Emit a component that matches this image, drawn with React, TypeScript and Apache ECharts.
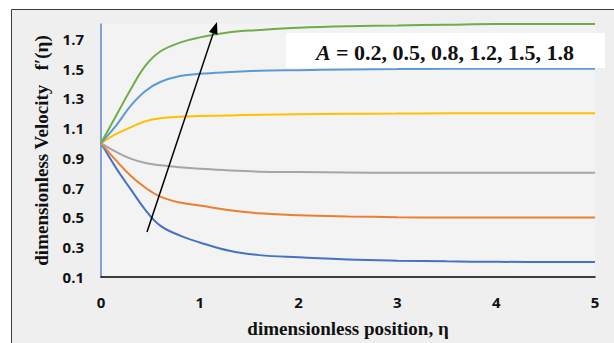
import React, { useEffect, useRef } from "react";
import * as echarts from "echarts";

const etaValues = [0, 0.15, 0.3, 0.45, 0.6, 0.8, 1, 1.3, 1.6, 2, 2.5, 3, 3.5, 4, 5];
const aLabels = ["0.2", "0.5", "0.8", "1.2", "1.5", "1.8"];
const seriesColors = ["#4472C4", "#ED7D31", "#A5A5A5", "#FFC000", "#5B9BD5", "#70AD47"];
const velA02 = [1, 0.835, 0.69, 0.55, 0.445, 0.378, 0.332, 0.276, 0.247, 0.232, 0.218, 0.21, 0.205, 0.202, 0.2];
const velA05 = [1, 0.885, 0.78, 0.7, 0.64, 0.6, 0.58, 0.548, 0.528, 0.515, 0.507, 0.502, 0.5, 0.5, 0.5];
const velA08 = [1, 0.942, 0.895, 0.866, 0.851, 0.838, 0.828, 0.816, 0.808, 0.805, 0.802, 0.8, 0.8, 0.8, 0.8];
const velA12 = [1, 1.06, 1.105, 1.147, 1.167, 1.177, 1.181, 1.186, 1.19, 1.194, 1.197, 1.198, 1.2, 1.2, 1.2];
const velA15 = [1, 1.115, 1.25, 1.35, 1.41, 1.45, 1.465, 1.477, 1.486, 1.49, 1.495, 1.497, 1.5, 1.5, 1.5];
const velA18 = [1, 1.18, 1.36, 1.52, 1.615, 1.675, 1.71, 1.745, 1.76, 1.775, 1.785, 1.79, 1.795, 1.8, 1.8];
const allVel = [velA02, velA05, velA08, velA12, velA15, velA18];

export default function App() {
  const ref = useRef<HTMLDivElement>(null);
  useEffect(() => {
    if (!ref.current) return;
    const chart = echarts.init(ref.current, null, { renderer: "svg" });
    const tip = [217, 22];
    const tail = [147, 232];
    const dx = tip[0] - tail[0];
    const dy = tip[1] - tail[1];
    const len = Math.sqrt(dx * dx + dy * dy);
    const ux = dx / len, uy = dy / len;
    const hl = 12, hw = 4.5;
    const bx = tip[0] - hl * ux, by = tip[1] - hl * uy;
    const px = -uy, py = ux;
    chart.setOption({
      animation: false,
      backgroundColor: "#ffffff",
      graphic: [
        {
          type: "rect",
          z: -10,
          silent: true,
          shape: { x: 11.5, y: 9.5, width: 640, height: 400 },
          style: { fill: "#efefef", stroke: "#3a3a3a", lineWidth: 1 },
        },
        {
          type: "rect",
          z: -9,
          silent: true,
          shape: { x: 101, y: 24, width: 494, height: 254 },
          style: { fill: "#f3f3f3" },
        },
        {
          type: "rect",
          z: 50,
          shape: { x: 286, y: 33, width: 319, height: 35 },
          style: { fill: "#ffffff" },
        },
        {
          type: "text",
          z: 51,
          x: 445,
          y: 52,
          style: {
            text: "{a|A} = 0.2, 0.5, 0.8, 1.2, 1.5, 1.8",
            fill: "#111111",
            font: "bold 22px 'Liberation Serif'",
            align: "center",
            verticalAlign: "middle",
            rich: {
              a: { fontStyle: "italic", fontWeight: "bold", fontSize: 22, fontFamily: "Liberation Serif", fill: "#111111" },
            },
          },
        },
        {
          type: "line",
          z: 60,
          shape: { x1: tail[0], y1: tail[1], x2: bx, y2: by },
          style: { stroke: "#000000", lineWidth: 1.5 },
        },
        {
          type: "polygon",
          z: 60,
          shape: {
            points: [
              [tip[0], tip[1]],
              [bx + hw * px, by + hw * py],
              [bx - hw * px, by - hw * py],
            ],
          },
          style: { fill: "#000000" },
        },
      ],
      grid: { left: 101, top: 24, width: 494, height: 254, containLabel: false },
      xAxis: {
        type: "value",
        min: 0,
        max: 5,
        interval: 1,
        name: "dimensionless position, η",
        nameLocation: "middle",
        nameGap: 42,
        nameTextStyle: { fontFamily: "Liberation Serif", fontWeight: "bold", fontSize: 19, color: "#111" },
        axisLine: { show: true, lineStyle: { color: "#000000", width: 1.5 } },
        axisTick: { show: false },
        splitLine: { show: false },
        axisLabel: { margin: 17, fontFamily: "Open Sans", fontWeight: "bold", fontSize: 15, color: "#111" },
      },
      yAxis: {
        type: "value",
        min: 0.1,
        max: 1.8,
        interval: 0.1,
        name: "dimensionless Velocity   f′(η)",
        nameLocation: "middle",
        nameRotate: 90,
        nameGap: 50,
        nameTextStyle: { fontFamily: "Liberation Serif", fontWeight: "bold", fontSize: 19, color: "#111" },
        axisLine: { show: true, onZero: false, lineStyle: { color: "#5b87c8", width: 1.5 } },
        axisTick: { show: false },
        splitLine: { show: false },
        axisLabel: {
          margin: 17,
          fontFamily: "Open Sans",
          fontWeight: "bold",
          fontSize: 15,
          color: "#111",
          showMaxLabel: false,
          formatter: (v: number) => {
            const k = Math.round(v * 10);
            return k % 2 === 1 ? (k / 10).toFixed(1) : "";
          },
        },
      },
      series: allVel.map((vals, i) => ({
        type: "line",
        name: "A = " + aLabels[i],
        data: etaValues.map((x, j) => [x, vals[j]]),
        smooth: 0.4,
        showSymbol: false,
        symbol: "none",
        clip: false,
        lineStyle: { color: seriesColors[i], width: 2 },
        z: 2 + i,
      })),
    });
    return () => chart.dispose();
  }, []);
  return (
    <div
      ref={ref}
      style={{ position: "absolute", left: 0, top: 0, width: 614, height: 343 }}
    />
  );
}
